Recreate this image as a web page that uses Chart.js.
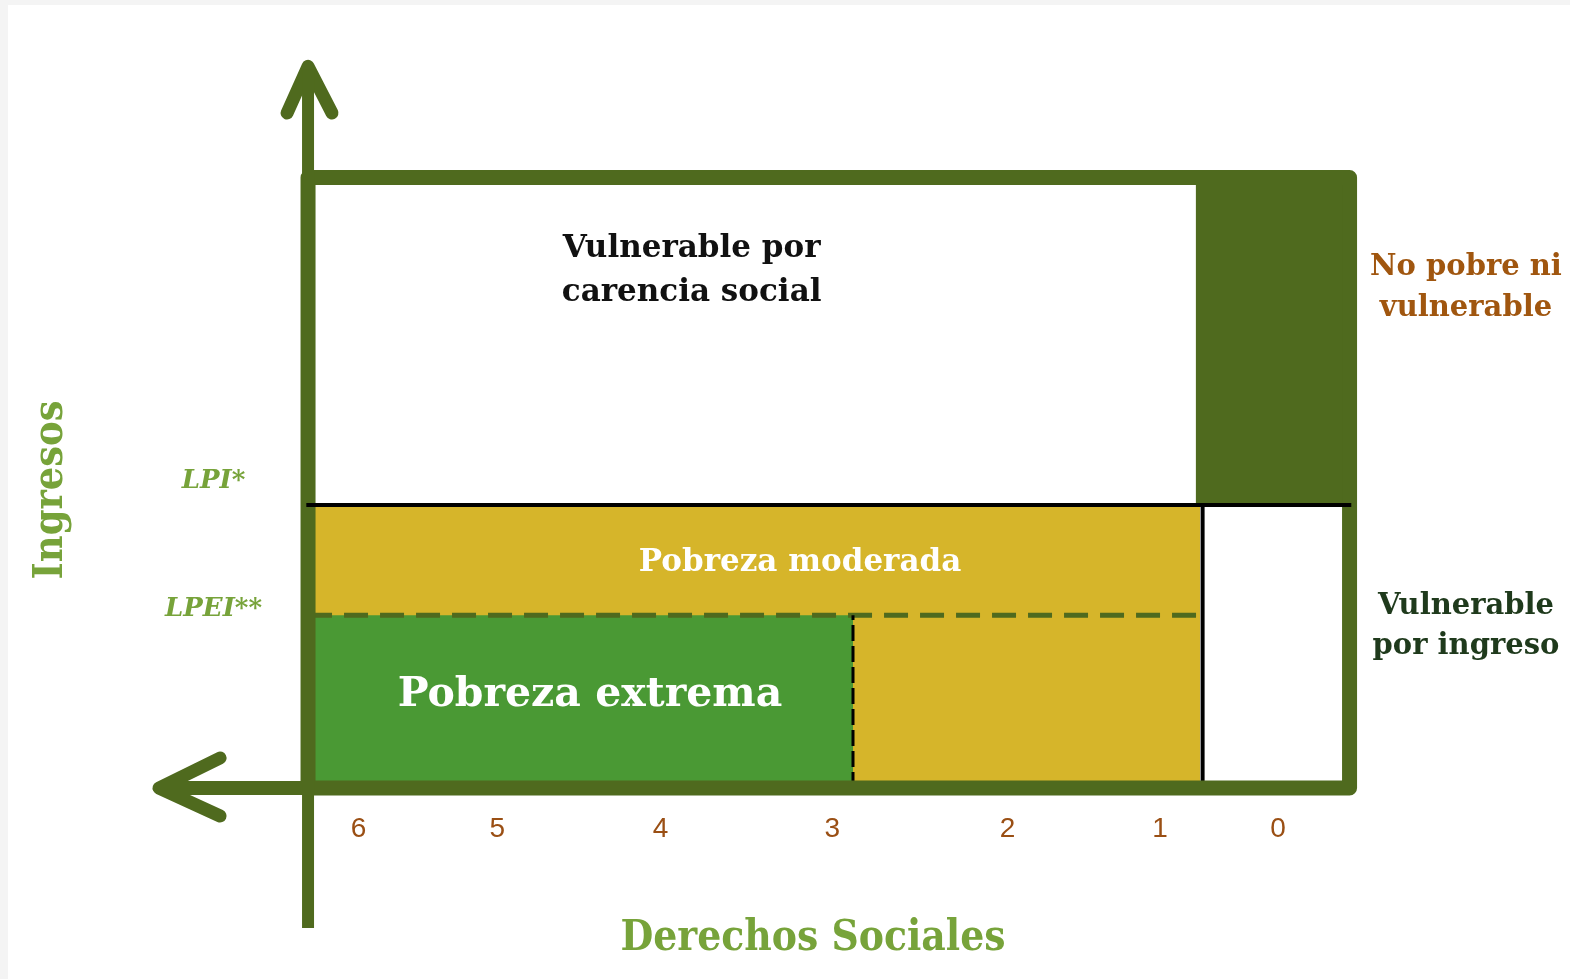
<!DOCTYPE html>
<html>
<head>
<meta charset="utf-8">
<script src="https://cdn.jsdelivr.net/npm/chart.js"></script>
<style>
  html, body { margin:0; padding:0; background:#fff; }
  #wrap { width:1570px; height:979px; position:relative; }
</style>
</head>
<body>
<div id="wrap"><canvas id="chart"></canvas></div>
<script>
// Derechos sociales (number of carencias) - tick labels and where they sit
const xTickLabels = ['6', '5', '4', '3', '2', '1', '0'];
const xTickPos = [5.85, 5.05, 4.11, 3.12, 2.11, 1.23, 0.55];

// Ingresos - threshold labels and where they sit
const yTickLabels = ['LPI*', 'LPEI**'];
const yTickPos = [108.5, 63.3];

// thresholds
const lpi = 100;          // linea de pobreza por ingresos
const lpei = 61;          // linea de pobreza extrema por ingresos
const ingresoTop = 215.7;
const carenciasMax = 6.141;
const carenciaExtrema = 3;
const carenciaModerada = 1;
const carenciasMin = 0.138;

const GREEN = '#4f6a1e';
const LIGHT_GREEN = '#77a33a';
const SERIF = "'DejaVu Serif', serif";
const SERIF_NARROW = "'DejaVu Serif Condensed', 'DejaVu Serif', serif";

// text inside / beside the regions (data coords)
const notes = [
  { lines: ['Vulnerable por', 'carencia social'], x: 3.93, y: [190.4, 174.9], color: '#111', size: 31 },
  { lines: ['Pobreza moderada'], x: 3.305, y: [79.5], color: '#fff', size: 31 },
  { lines: ['Pobreza extrema'], x: 4.516, y: [32.8], color: '#fff', size: 41 },
  { lines: ['No pobre ni', 'vulnerable'], x: -0.533, y: [184.1, 169.4], color: '#a0560f', size: 29 },
  { lines: ['Vulnerable', 'por ingreso'], x: -0.533, y: [64.3, 50.1], color: '#1f3a1c', size: 29 }
];

function band(x0, x1, y0, y1, color, order) {
  return { data: [{x: x0, y: y1}, {x: x1, y: y1}], borderWidth: 0, borderColor: color,
    backgroundColor: color, fill: {value: y0}, pointRadius: 0, clip: false, order: order };
}
function seg(points, color, width, order, extra) {
  return Object.assign({ data: points, borderColor: color, borderWidth: width, pointRadius: 0,
    fill: false, clip: false, order: order }, extra || {});
}

const datasets = [
  band(carenciasMax, carenciaModerada, 0, lpi, '#d6b52a', 20),
  band(carenciasMax, carenciaExtrema, 0, lpei, '#4a9934', 19),
  band(carenciaModerada + 0.025, carenciasMin, lpi, ingresoTop, GREEN, 18),
  seg([{x: carenciasMax, y: lpei}, {x: carenciaModerada, y: lpei}], GREEN, 5, 10, {borderDash: [24, 12]}),
  seg([{x: carenciaExtrema, y: 0}, {x: carenciaExtrema, y: lpei}], '#000', 3, 9, {borderDash: [16, 5]}),
  seg([{x: carenciaModerada - 0.015, y: 0}, {x: carenciaModerada - 0.015, y: lpi}], '#000', 4, 8),
  // frame
  seg([{x: carenciasMax, y: 0}, {x: carenciasMax, y: ingresoTop}, {x: carenciasMin, y: ingresoTop},
       {x: carenciasMin, y: 0}, {x: carenciasMax, y: 0}], GREEN, 15, 5, {borderJoinStyle: 'round'}),
  // axes with arrows
  seg([{x: carenciasMax, y: -49.5}, {x: carenciasMax, y: 254}], GREEN, 12, 4),
  seg([{x: 6.262, y: 238.5}, {x: carenciasMax, y: 255}, {x: 6.003, y: 238.5}], GREEN, 13, 4,
      {borderCapStyle: 'round', borderJoinStyle: 'round'}),
  seg([{x: 7.0, y: 0}, {x: carenciasMax, y: 0}], GREEN, 14, 4),
  seg([{x: 6.648, y: 10.6}, {x: 7.0, y: 0}, {x: 6.648, y: -9.9}], GREEN, 13, 4,
      {borderCapStyle: 'round', borderJoinStyle: 'round'}),
  // LPI line
  seg([{x: carenciasMax + 0.01, y: lpi}, {x: carenciasMin - 0.01, y: lpi}], '#000', 4, 2)
];

const paperPlugin = {
  id: 'paper',
  beforeDraw(chart) {
    const ctx = chart.ctx;
    ctx.save();
    ctx.fillStyle = '#f4f4f4';
    ctx.fillRect(0, 0, chart.width, chart.height);
    ctx.fillStyle = '#fff';
    ctx.fillRect(8, 5, chart.width, chart.height);
    ctx.restore();
  }
};

const notesPlugin = {
  id: 'notes',
  afterDatasetsDraw(chart) {
    const ctx = chart.ctx;
    const xs = chart.scales.x, ys = chart.scales.y;
    ctx.save();
    ctx.textAlign = 'center';
    ctx.textBaseline = 'middle';
    notes.forEach(n => {
      ctx.fillStyle = n.color;
      ctx.font = 'bold ' + n.size + 'px ' + SERIF;
      n.lines.forEach((t, i) => {
        ctx.fillText(t, xs.getPixelForValue(n.x), ys.getPixelForValue(n.y[i]));
      });
    });
    ctx.restore();
  }
};

new Chart(document.getElementById('chart'), {
  type: 'line',
  data: { datasets: datasets },
  plugins: [paperPlugin, notesPlugin],
  options: {
    responsive: true,
    maintainAspectRatio: false,
    animation: false,
    layout: { padding: { left: 8, top: 180, right: 224, bottom: 0 } },
    plugins: { legend: { display: false }, tooltip: { enabled: false } },
    scales: {
      x: {
        type: 'linear', reverse: true, min: 0.1585, max: 6.3026,
        grid: { display: false }, border: { display: false },
        afterBuildTicks: s => { s.ticks = xTickPos.map(v => ({value: v})); },
        afterFit: s => { s.height = 179; },
        ticks: {
          autoSkip: false, maxRotation: 0, padding: 4, color: '#9a4f14',
          font: { family: "'Liberation Sans Narrow', 'Liberation Sans', sans-serif", size: 28 },
          callback: (v, i) => xTickLabels[i]
        },
        title: {
          display: true, text: 'Derechos Sociales', color: LIGHT_GREEN,
          font: { family: SERIF_NARROW, size: 42, weight: 'bold' }, padding: { top: 0, bottom: 15 }
        }
      },
      y: {
        type: 'linear', min: -4.24, max: 214.84,
        grid: { display: false }, border: { display: false },
        afterBuildTicks: s => { s.ticks = yTickPos.map(v => ({value: v})); },
        afterFit: s => { s.width = 272; },
        ticks: {
          crossAlign: 'center', padding: 10, color: LIGHT_GREEN,
          font: { family: SERIF, size: 26, weight: 'bold', style: 'italic' },
          callback: (v, i) => yTickLabels[i]
        },
        title: {
          display: true, text: 'Ingresos', color: LIGHT_GREEN,
          font: { family: SERIF_NARROW, size: 41, weight: 'bold' }, padding: { top: 19, bottom: 0 }
        }
      }
    }
  }
});
</script>
</body>
</html>
